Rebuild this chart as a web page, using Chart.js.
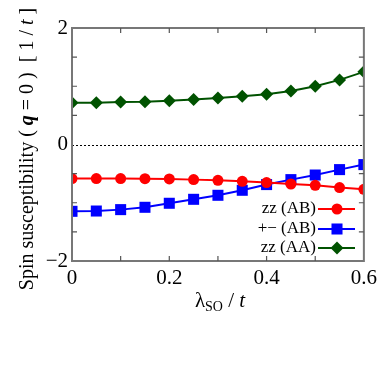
<!DOCTYPE html>
<html>
<head>
<meta charset="utf-8">
<script src="https://cdn.jsdelivr.net/npm/chart.js@4/dist/chart.umd.min.js"></script>
<style>
  html, body { margin: 0; padding: 0; background: #fff; }
  canvas { display: block; }
</style>
</head>
<body>
<canvas id="chart" width="382" height="387"></canvas>
<script>
const lambdaSO = [0, 0.05, 0.1, 0.15, 0.2, 0.25, 0.3, 0.35, 0.4, 0.45, 0.5, 0.55, 0.6]
const zzAB = [-0.585, -0.585, -0.585, -0.587, -0.592, -0.603, -0.615, -0.632, -0.654, -0.678, -0.700, -0.740, -0.769]
const pmAB = [-1.147, -1.142, -1.118, -1.078, -1.009, -0.941, -0.872, -0.786, -0.688, -0.603, -0.524, -0.431, -0.345]
const zzAA = [0.718, 0.718, 0.729, 0.736, 0.753, 0.771, 0.798, 0.828, 0.862, 0.919, 1.0, 1.109, 1.247]
const xLabels = [0, 0.2, 0.4, 0.6]
const yLabels = [-2, 0, 2]
const legendNames = ['zz (AB)', '+\u2212 (AB)', 'zz (AA)']

const SERIF = '"Liberation Serif", "DejaVu Serif", serif'
const pts = ys => lambdaSO.map((x, i) => ({ x, y: ys[i] }))

function series(label, data, color, style, radius) {
  return {
    label, data: pts(data),
    borderColor: color, backgroundColor: color,
    pointBackgroundColor: color, pointBorderColor: color,
    pointStyle: style, pointRadius: radius, pointBorderWidth: 0,
    borderWidth: 2, tension: 0
  }
}

// draws text runs [text, font, dy] one after another
function drawRuns(ctx, runs, x, y, align) {
  let total = 0
  runs.forEach(r => { ctx.font = r[1]; total += ctx.measureText(r[0]).width })
  let cx = align === 'center' ? x - total / 2 : x
  runs.forEach(r => {
    ctx.font = r[1]
    ctx.fillText(r[0], cx, y + (r[2] || 0))
    cx += ctx.measureText(r[0]).width
  })
}

const framePlugin = {
  id: 'frame',
  beforeDatasetsDraw(chart) {
    const { ctx, chartArea: a, scales: { y } } = chart
    ctx.save()
    // dotted zero line
    ctx.strokeStyle = '#000'
    ctx.lineWidth = 1
    ctx.setLineDash([2, 2])
    const y0 = Math.round(y.getPixelForValue(0)) + 0.5
    ctx.beginPath(); ctx.moveTo(a.left, y0); ctx.lineTo(a.right, y0); ctx.stroke()
    ctx.restore()
  },
  afterDatasetsDraw(chart) {
    const { ctx, chartArea: a, scales: { x, y } } = chart
    ctx.save()
    ctx.strokeStyle = '#777'
    ctx.lineWidth = 2
    ctx.strokeRect(a.left, a.top, a.right - a.left, a.bottom - a.top)
    ctx.lineWidth = 1.2
    ctx.strokeStyle = '#555'
    ctx.beginPath()
    for (let v = 0.1; v < 0.6; v += 0.1) {
      const px = x.getPixelForValue(v)
      ctx.moveTo(px, a.bottom); ctx.lineTo(px, a.bottom - 5)
      ctx.moveTo(px, a.top); ctx.lineTo(px, a.top + 5)
    }
    for (let v = -1.5; v < 2; v += 0.5) {
      if (v === 0) continue
      const py = y.getPixelForValue(v)
      ctx.moveTo(a.left, py); ctx.lineTo(a.left + 5, py)
      ctx.moveTo(a.right, py); ctx.lineTo(a.right - 5, py)
    }
    ctx.stroke()

    // legend: text then line sample with marker
    ctx.textBaseline = 'middle'
    ctx.textAlign = 'right'
    ctx.font = '17px ' + SERIF
    const rows = [209, 229, 248]
    chart.data.datasets.forEach((ds, i) => {
      const ly = rows[i]
      ctx.fillStyle = '#000'
      ctx.fillText(legendNames[i], 316, ly)
      ctx.strokeStyle = ds.borderColor
      ctx.lineWidth = 2
      ctx.beginPath(); ctx.moveTo(318, ly); ctx.lineTo(355, ly); ctx.stroke()
      ctx.fillStyle = ds.borderColor
      Chart.helpers.drawPoint(ctx, { pointStyle: ds.pointStyle, radius: ds.pointRadius, borderWidth: 0 }, 337, ly)
    })

    // axis titles
    ctx.fillStyle = '#000'
    ctx.textAlign = 'left'
    ctx.textBaseline = 'alphabetic'
    drawRuns(ctx, [
      ['\u03bb', '21px ' + SERIF],
      ['SO', '14px ' + SERIF, 4],
      [' / ', '21px ' + SERIF],
      ['t', 'italic 21px ' + SERIF]
    ], 220, 307, 'center')

    ctx.translate(33, 149)
    ctx.rotate(-Math.PI / 2)
    drawRuns(ctx, [
      ['Spin susceptibility ( ', '20px ' + SERIF],
      ['q', 'italic bold 20px ' + SERIF],
      [' = 0 )  [ 1 / ', '20px ' + SERIF],
      ['t', 'italic 20px ' + SERIF],
      [' ]', '20px ' + SERIF]
    ], 0, 0, 'center')
    ctx.restore()
  }
}

new Chart(document.getElementById('chart'), {
  type: 'line',
  data: {
    datasets: [
      series('zz (AB)', zzAB, '#ff0000', 'circle', 5.5),
      series('+- (AB)', pmAB, '#0000ff', 'rect', 7.8),
      series('zz (AA)', zzAA, '#005200', 'rectRot', 6.5)
    ]
  },
  options: {
    responsive: false,
    animation: false,
    devicePixelRatio: 1,
    layout: { padding: { top: 28, right: 17, left: 0, bottom: 0 } },
    plugins: { legend: { display: false }, tooltip: { enabled: false } },
    scales: {
      x: {
        type: 'linear', min: 0, max: 0.6,
        afterFit: s => { s.height = 126 },
        grid: { display: false, drawTicks: false },
        border: { display: false },
        ticks: {
          stepSize: 0.2, autoSkip: false, padding: 5, color: '#000',
          font: { family: SERIF, size: 21 },
          callback: v => xLabels.includes(Math.round(v * 10) / 10) ? String(Math.round(v * 10) / 10) : ''
        }
      },
      y: {
        type: 'linear', min: -2, max: 2,
        afterFit: s => { s.width = 72 },
        grid: { display: false, drawTicks: false },
        border: { display: false },
        ticks: {
          stepSize: 2, autoSkip: false, padding: 4, color: '#000',
          font: { family: SERIF, size: 21 },
          callback: v => yLabels.includes(v) ? (v < 0 ? '\u2212' + Math.abs(v) : String(v)) : ''
        }
      }
    }
  },
  plugins: [framePlugin]
})
</script>
</body>
</html>
